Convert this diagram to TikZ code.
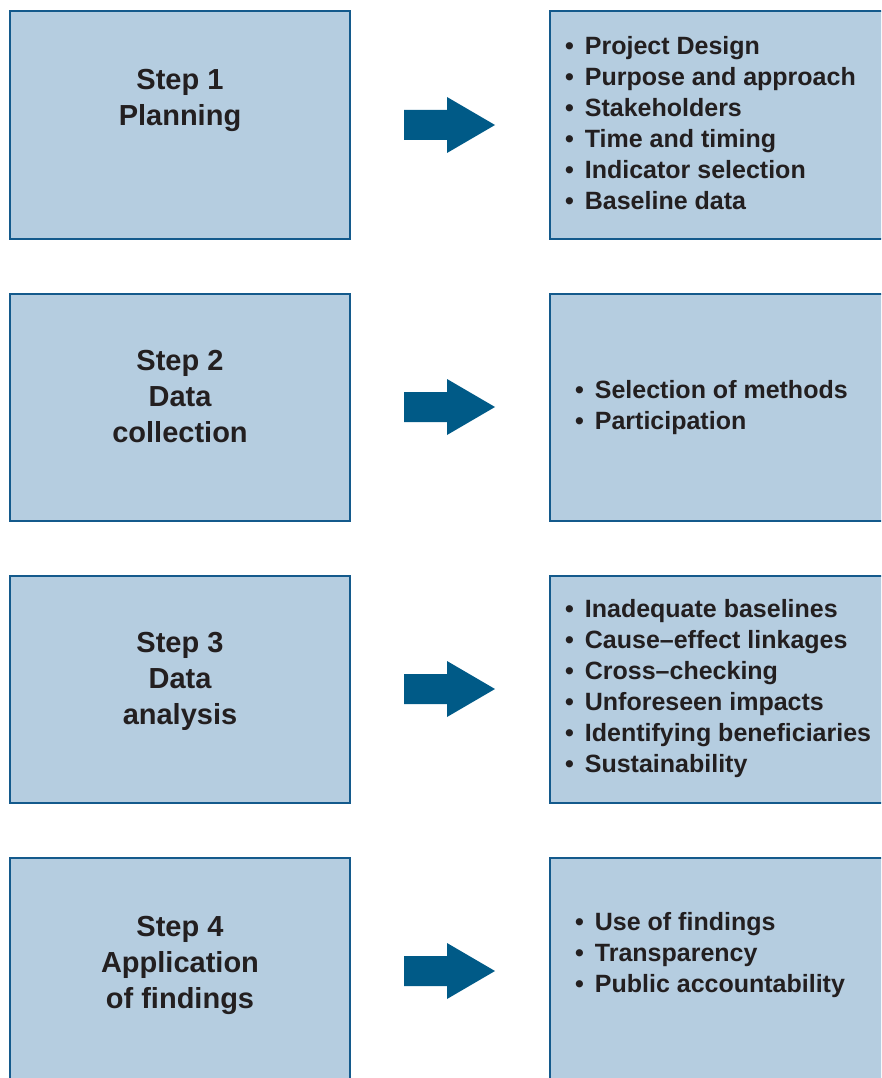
\documentclass[tikz,border=0pt]{standalone}
\usepackage{fontspec}
\setmainfont{Liberation Sans}
\definecolor{boxfill}{RGB}{181,205,224}
\definecolor{boxline}{RGB}{20,90,140}
\definecolor{arrowblue}{RGB}{0,90,135}
\definecolor{txt}{RGB}{35,31,32}
\newcommand{\bulitem}{•\ \kern4pt}
\begin{document}
\begin{tikzpicture}[x=1pt,y=-1pt,
  stepbox/.style={draw=boxline, fill=boxfill, line width=2pt, minimum width=340pt, minimum height=227pt, inner sep=0pt, outer sep=0pt, anchor=north west},
  listbox/.style={stepbox, minimum width=380pt},
  steptext/.style={font=\bfseries\fontsize{29}{36}\selectfont, align=center, anchor=north, inner sep=0pt, text=txt},
  listtext/.style={font=\bfseries\fontsize{25}{31}\selectfont, align=left, anchor=north west, inner sep=0pt, text=txt},
  blockarrow/.style={fill=arrowblue}]
\useasboundingbox (0,0) rectangle (881,1078);
\clip (0,0) rectangle (881,1078);
% boxes
\node[stepbox] (s1) at (10,11.5) {};
\node[stepbox] (s2) at (10,293.5) {};
\node[stepbox] (s3) at (10,575.5) {};
\node[stepbox] (s4) at (10,857.5) {};
\node[listbox] (r1) at (550,11.5) {};
\node[listbox] (r2) at (550,293.5) {};
\node[listbox] (r3) at (550,575.5) {};
\node[listbox] (r4) at (550,857.5) {};
% step texts
\node[steptext] (t1) at (180,69) {Step 1\\Planning};
\node[steptext] (t2) at (180,350) {Step 2\\Data\\collection};
\node[steptext] (t3) at (180,632) {Step 3\\Data\\analysis};
\node[steptext] (t4) at (180,916) {Step 4\\Application\\of findings};
% lists
\node[listtext] (l1) at (565,36.5) {\bulitem Project Design\\\bulitem Purpose and approach\\\bulitem Stakeholders\\\bulitem Time and timing\\\bulitem Indicator selection\\\bulitem Baseline data};
\node[listtext] (l2) at (575,380) {\bulitem Selection of methods\\\bulitem Participation};
\node[listtext] (l3) at (565,599) {\bulitem Inadequate baselines\\\bulitem Cause–effect linkages\\\bulitem Cross–checking\\\bulitem Unforeseen impacts\\\bulitem Identifying beneficiaries\\\bulitem Sustainability};
\node[listtext] (l4) at (575,912) {\bulitem Use of findings\\\bulitem Transparency\\\bulitem Public accountability};
% arrows
\coordinate (a1) at (404,125);
\coordinate (a2) at (404,407);
\coordinate (a3) at (404,689);
\coordinate (a4) at (404,971);
\foreach \a in {a1,a2,a3,a4}{
  \fill[blockarrow] (\a) ++(0,-15) -- ++(43,0) -- ++(0,-13) -- ++(48,28) -- ++(-48,28) -- ++(0,-13) -- ++(-43,0) -- cycle;
}
\end{tikzpicture}
\end{document}
